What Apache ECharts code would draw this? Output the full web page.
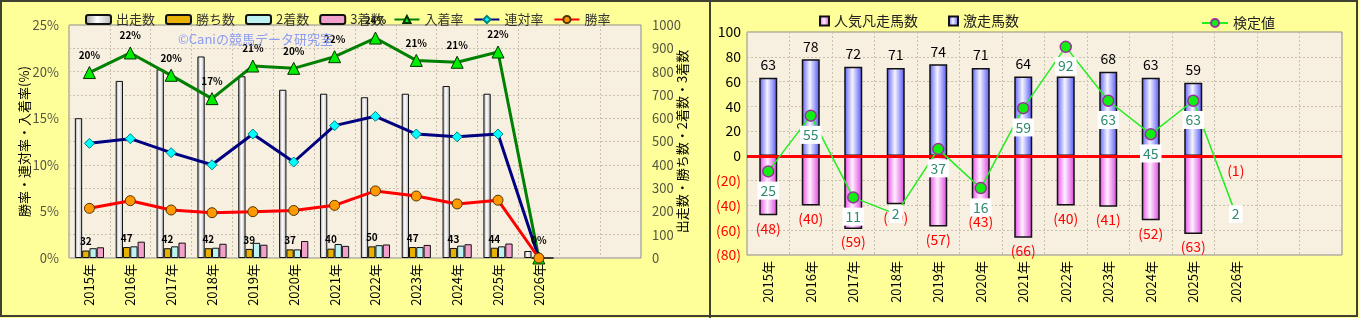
<!DOCTYPE html>
<html><head><meta charset="utf-8">
<script src="https://cdn.jsdelivr.net/npm/echarts@6/dist/echarts.min.js"></script>
<style>html,body{margin:0;padding:0;background:#ffff99;}#c{width:1359px;height:318px;}</style>
</head><body><div id="c"></div>
<script>
// ---- categories ----
const years = ['2015年','2016年','2017年','2018年','2019年','2020年','2021年','2022年','2023年','2024年','2025年','2026年','',''];
// ---- left panel ----
const starts   = [600, 760, 810, 865, 780, 722, 705, 690, 705, 738, 705, 30];
const wins     = [32, 47, 42, 42, 39, 37, 40, 50, 47, 43, 44, 0];
const seconds  = [42, 50, 50, 44, 65, 37, 60, 55, 47, 53, 50, 0];
const thirds   = [46, 70, 66, 61, 57, 73, 52, 58, 56, 59, 62, 0];
const placeRate    = [19.9, 22.0, 19.6, 17.1, 20.6, 20.35, 21.6, 23.6, 21.2, 21.0, 22.1, 0];
const quinellaRate = [12.3, 12.8, 11.3, 10.0, 13.3, 10.3, 14.2, 15.2, 13.3, 13.0, 13.3, 0];
const winRate      = [5.33, 6.15, 5.15, 4.86, 4.97, 5.1, 5.65, 7.2, 6.65, 5.8, 6.2, 0];
const pctTicks = [0, 25, 5];
const cntTicks = [0, 1000, 100];
// ---- right panel ----
const popularFail = [-48, -40, -59, -39, -57, -43, -66, -40, -41, -52, -63, -1];
const surge       = [63, 78, 72, 71, 74, 71, 64, 64, 68, 63, 59, 0];
const testValue   = [25, 55, 11, 2, 37, 16, 59, 92, 63, 45, 63, 2];
const rightTicks = [-80, 100, 20];
const testAxis = [-20, 100];

const FONT = '"Noto Sans CJK JP", "Noto Sans", sans-serif';
const chart = echarts.init(document.getElementById('c'), null, {renderer: 'canvas'});

const grad = (a, b, c) => new echarts.graphic.LinearGradient(0, 0, 1, 0, [
  {offset: 0, color: a}, {offset: 0.45, color: b}, {offset: 1, color: c}]);

const dotted = {show: true, lineStyle: {color: '#c9c0ae', type: [2, 2], width: 1}};
const gridBg = {show: true, backgroundColor: '#f7efdf', borderColor: '#8a8a8a', borderWidth: 1};

const option = {
  backgroundColor: '#ffff99',
  textStyle: {fontFamily: FONT},
  animation: false,
  graphic: [
    {type: 'text', left: 178, top: 33, z: 100, style: {text: '©Caniの競馬データ研究室', fill: '#8c9cf0', font: '13px ' + FONT}},
    {type: 'rect', shape: {x: 1, y: 1, width: 1356, height: 315}, style: {fill: 'none', stroke: '#404030', lineWidth: 2}, z: 200},
    {type: 'line', shape: {x1: 710, y1: 0, x2: 710, y2: 318}, style: {stroke: '#404030', lineWidth: 2}, z: 200}
  ],
  legend: [
    {left: 80, top: 8, itemWidth: 25, itemHeight: 9, itemGap: 10,
     textStyle: {fontSize: 13, color: '#333', fontFamily: FONT},
     data: ['出走数','勝ち数','2着数','3着数','入着率','連対率','勝率']},
    {left: 814, top: 9, itemWidth: 9, itemHeight: 9, itemGap: 30, icon: 'rect',
     textStyle: {fontSize: 14, color: '#222', fontFamily: FONT},
     data: ['人気凡走馬数','激走馬数']},
    {left: 1196, top: 11, itemWidth: 26, itemHeight: 10,
     textStyle: {fontSize: 14, color: '#222', fontFamily: FONT},
     data: ['検定値']}
  ],
  grid: [
    Object.assign({left: 69, top: 25, width: 572, height: 233}, gridBg),
    Object.assign({left: 747, top: 32, width: 595, height: 223}, gridBg)
  ],
  xAxis: [
    {type: 'category', gridIndex: 0, data: years, axisTick: {show: false}, axisLine: {show: false},
     splitLine: dotted,
     axisLabel: {rotate: 90, interval: 0, fontSize: 13, color: '#000', margin: 6}},
    {type: 'category', gridIndex: 1, data: years, axisTick: {show: false}, axisLine: {show: false},
     splitLine: dotted,
     axisLabel: {rotate: 90, interval: 0, fontSize: 13, color: '#000', margin: 6}}
  ],
  yAxis: [
    {type: 'value', gridIndex: 0, position: 'left', min: pctTicks[0], max: pctTicks[1], interval: pctTicks[2],
     splitLine: {show: false}, axisLine: {show: false}, axisTick: {show: false},
     axisLabel: {formatter: '{value}%', fontSize: 13, color: '#555544', margin: 10},
     name: '勝率・連対率・入着率(%)', nameLocation: 'middle', nameGap: 38, nameRotate: 90, nameMoveOverlap: false,
     nameTextStyle: {fontSize: 13, color: '#000'}},
    {type: 'value', gridIndex: 0, position: 'right', min: cntTicks[0], max: cntTicks[1], interval: cntTicks[2],
     splitLine: dotted, axisLine: {show: false}, axisTick: {show: false},
     axisLabel: {fontSize: 13, color: '#555544', margin: 11, formatter: v => String(v)},
     name: '出走数・勝ち数・2着数・3着数', nameLocation: 'middle', nameGap: 35, nameRotate: 90, nameMoveOverlap: false,
     nameTextStyle: {fontSize: 13, color: '#000'}},
    {type: 'value', gridIndex: 1, position: 'left', min: rightTicks[0], max: rightTicks[1], interval: rightTicks[2],
     splitLine: dotted, axisLine: {show: false}, axisTick: {show: false},
     axisLabel: {fontSize: 14, margin: 6,
       color: v => (v < 0 ? '#ff0000' : '#000'),
       formatter: v => (v < 0 ? '(' + (-v) + ')' : String(v))}},
    {type: 'value', gridIndex: 1, position: 'right', min: testAxis[0], max: testAxis[1], show: false}
  ],
  series: [
    {name: '出走数', type: 'bar', xAxisIndex: 0, yAxisIndex: 1, data: starts, barWidth: 7.3, barGap: '0%',
     itemStyle: {color: grad('#9a9a9a', '#ffffff', '#b4b4b4'), borderColor: '#111', borderWidth: 1}},
    {name: '勝ち数', type: 'bar', xAxisIndex: 0, yAxisIndex: 1, data: wins, barWidth: 7.3, barGap: '0%',
     itemStyle: {color: '#e8b000', borderColor: '#111', borderWidth: 1},
     label: {show: true, position: 'top', distance: 4, fontSize: 10, fontWeight: 'bold', color: '#000',
       formatter: p => (p.value ? String(p.value) : '')}},
    {name: '2着数', type: 'bar', xAxisIndex: 0, yAxisIndex: 1, data: seconds, barWidth: 7.3, barGap: '0%',
     itemStyle: {color: '#bdf2f2', borderColor: '#111', borderWidth: 1}},
    {name: '3着数', type: 'bar', xAxisIndex: 0, yAxisIndex: 1, data: thirds, barWidth: 7.3, barGap: '0%',
     itemStyle: {color: '#f2a0cc', borderColor: '#111', borderWidth: 1}},
    {name: '入着率', type: 'line', xAxisIndex: 0, yAxisIndex: 0, data: placeRate,
     lineStyle: {color: '#008000', width: 3}, symbol: 'triangle', symbolSize: 12,
     itemStyle: {color: '#00ee00', borderColor: '#003300', borderWidth: 1},
     label: {show: true, position: 'top', distance: 6, fontSize: 10, fontWeight: 'bold', color: '#000',
       formatter: p => Math.round(p.value) + '%'}},
    {name: '連対率', type: 'line', xAxisIndex: 0, yAxisIndex: 0, data: quinellaRate,
     lineStyle: {color: '#000080', width: 3}, symbol: 'diamond', symbolSize: 10,
     itemStyle: {color: '#00ffff', borderColor: '#008080', borderWidth: 1}},
    {name: '勝率', type: 'line', xAxisIndex: 0, yAxisIndex: 0, data: winRate,
     lineStyle: {color: '#ff0000', width: 3}, symbol: 'circle', symbolSize: 10,
     itemStyle: {color: '#ff9900', borderColor: '#553300', borderWidth: 1}},

    {name: '人気凡走馬数', type: 'bar', xAxisIndex: 1, yAxisIndex: 2, data: popularFail, stack: 'r', barWidth: 18,
     itemStyle: {color: grad('#e845e8', '#fff0ff', '#dd40dd'), borderColor: '#111', borderWidth: 1.5},
     label: {show: true, position: 'bottom', distance: 6, fontSize: 14, color: '#ff0000',
       formatter: p => '(' + Math.abs(p.value) + ')'}},
    {name: '激走馬数', type: 'bar', xAxisIndex: 1, yAxisIndex: 2, data: surge, stack: 'r', barWidth: 18,
     itemStyle: {color: grad('#5a5aff', '#f4f4ff', '#5050f8'), borderColor: '#111', borderWidth: 1.5},
     label: {show: true, position: 'top', distance: 6, fontSize: 14, color: '#000',
       formatter: p => (p.value ? String(p.value) : '')},
     markLine: {symbol: 'none', silent: true, label: {show: false}, animation: false,
       lineStyle: {color: '#ff0000', width: 3, type: 'solid'}, data: [{yAxis: 0}]}},
    {name: '検定値', type: 'line', xAxisIndex: 1, yAxisIndex: 3, z: 5,
     data: testValue.map(v => (v < 5 ? {value: v, label: {position: 'inside'}} : v)),
     lineStyle: {color: '#22ee22', width: 1.5}, symbol: 'circle', symbolSize: 11,
     itemStyle: {color: '#11ee11', borderColor: '#993399', borderWidth: 1.5},
     label: {show: true, position: 'bottom', distance: 4, fontSize: 14, color: '#2e8b6e',
       backgroundColor: '#ffffff', padding: [2, 3]}}
  ]
};
chart.setOption(option);
</script></body></html>
